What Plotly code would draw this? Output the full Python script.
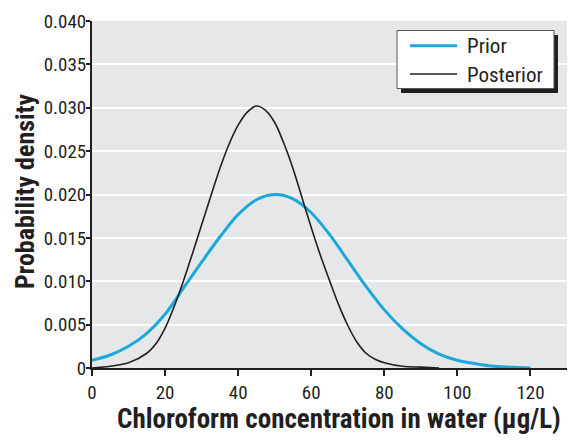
import plotly.graph_objects as go

# ---- data ----
prior_x = [0, 5, 10, 15, 20, 25, 30, 35, 40, 45, 50, 55, 60, 65, 70, 75, 80, 85, 90, 95, 100, 105, 110, 115, 120]
prior_y = [0.0009, 0.0015, 0.0025, 0.0040, 0.0062, 0.0092, 0.0122, 0.0151, 0.0177, 0.0194, 0.0200, 0.0195,
           0.0179, 0.0154, 0.0124, 0.0094, 0.0067, 0.0045, 0.0028, 0.0016, 0.0009, 0.0005, 0.0002, 0.0001, 0.0000]
post_x = [0, 5, 10, 15, 17.5, 20, 22.5, 25, 27.5, 30, 32.5, 35, 37.5, 40, 42.5, 45, 47.5, 50, 52.5, 55,
          57.5, 60, 62.5, 65, 67.5, 70, 72.5, 75, 77.5, 80, 85, 90, 95]
post_y = [0.0000, 0.0002, 0.0006, 0.0017, 0.0028, 0.0046, 0.0071, 0.0100, 0.0132, 0.0165, 0.0198, 0.0230,
          0.0258, 0.0280, 0.0295, 0.0302, 0.0297, 0.0283, 0.0259, 0.0230, 0.0196, 0.0162, 0.0130, 0.0101,
          0.0073, 0.0049, 0.0030, 0.0017, 0.0010, 0.0006, 0.0002, 0.0001, 0.0000]
series_names = ["Prior", "Posterior"]
y_ticks = [0, 0.005, 0.010, 0.015, 0.020, 0.025, 0.030, 0.035, 0.040]
y_tick_text = ["0", "0.005", "0.010", "0.015", "0.020", "0.025", "0.030", "0.035", "0.040"]
x_ticks = [0, 20, 40, 60, 80, 100, 120]
x_title = "Chloroform concentration in water (μg/L)"
y_title = "Probability density"

CYAN = "#1CA8DD"
BLACK = "#231F20"
FONT = "Roboto Condensed, Liberation Sans Narrow, Arial Narrow, Roboto, sans-serif"

fig = go.Figure()
fig.add_trace(go.Scatter(x=prior_x, y=prior_y, mode="lines", name=series_names[0],
                         line=dict(color=CYAN, width=3, shape="spline", smoothing=1.0)))
fig.add_trace(go.Scatter(x=post_x, y=post_y, mode="lines", name=series_names[1],
                         line=dict(color=BLACK, width=1.6, shape="spline", smoothing=1.0)))

# the page body adds an 8px offset, so the figure is sized to fill the rest of the window
OFF = 8
W, H = 579 - OFF, 440 - OFF
# plot area in window pixels: x 92..567, y 21..368
L, R, T, B = 92 - OFF, 579 - 567, 21 - OFF, 440 - 368
pw, ph = W - L - R, H - T - B


def px(xp):
    return (xp - OFF - L) / pw


def py(yp):
    return 1 - (yp - OFF - T) / ph


shapes = []
# legend shadow
shapes.append(dict(type="rect", xref="paper", yref="paper", x0=px(401), x1=px(558), y0=py(93), y1=py(35),
                   fillcolor=BLACK, line=dict(width=0), layer="above"))
# legend box
shapes.append(dict(type="rect", xref="paper", yref="paper", x0=px(397), x1=px(554), y0=py(88.5), y1=py(30.5),
                   fillcolor="white", line=dict(color="#555555", width=1), layer="above"))
# legend sample lines
shapes.append(dict(type="line", xref="paper", yref="paper", x0=px(410), x1=px(457), y0=py(45.7), y1=py(45.7),
                   line=dict(color=CYAN, width=3), layer="above"))
shapes.append(dict(type="line", xref="paper", yref="paper", x0=px(410), x1=px(457), y0=py(74), y1=py(74),
                   line=dict(color=BLACK, width=1.6), layer="above"))

annotations = [
    dict(xref="paper", yref="paper", x=px(465), y=py(46.5), text=series_names[0], showarrow=False,
         xanchor="left", yanchor="middle", font=dict(family=FONT, size=21, color=BLACK)),
    dict(xref="paper", yref="paper", x=px(465), y=py(74.5), text=series_names[1], showarrow=False,
         xanchor="left", yanchor="middle", font=dict(family=FONT, size=21, color=BLACK)),
    dict(xref="paper", yref="paper", x=px(338.5), y=py(419), text=x_title, showarrow=False,
         xanchor="center", yanchor="middle", font=dict(family=FONT, size=27, color=BLACK, weight="bold")),
    dict(xref="paper", yref="paper", x=px(25), y=py(191), text=y_title, showarrow=False, textangle=-90,
         xanchor="center", yanchor="middle", borderpad=0,
         font=dict(family=FONT, size=26, color=BLACK, weight="bold")),
]

fig.update_layout(
    width=W, height=H, autosize=False,
    margin=dict(l=L, r=R, t=T, b=B, pad=0),
    paper_bgcolor="white", plot_bgcolor="#E6E7E8",
    showlegend=False,
    font=dict(family=FONT, size=19, color=BLACK),
    shapes=shapes, annotations=annotations,
    xaxis=dict(range=[0, 130], tickvals=x_ticks, showgrid=False, zeroline=False, automargin=False,
               showline=True, linecolor=BLACK, linewidth=2,
               ticks="outside", ticklen=6, tickwidth=1.5, tickcolor=BLACK,
               tickfont=dict(family=FONT, size=19, color=BLACK)),
    yaxis=dict(range=[0, 0.040], tickvals=y_ticks, ticktext=y_tick_text, showgrid=True, automargin=False,
               gridcolor="white", gridwidth=2, zeroline=False,
               showline=True, linecolor=BLACK, linewidth=2,
               ticks="outside", ticklen=4, tickwidth=1.5, tickcolor=BLACK, ticklabelstandoff=-4,
               tickfont=dict(family=FONT, size=19, color=BLACK)),
)

fig.write_html("out.html")
